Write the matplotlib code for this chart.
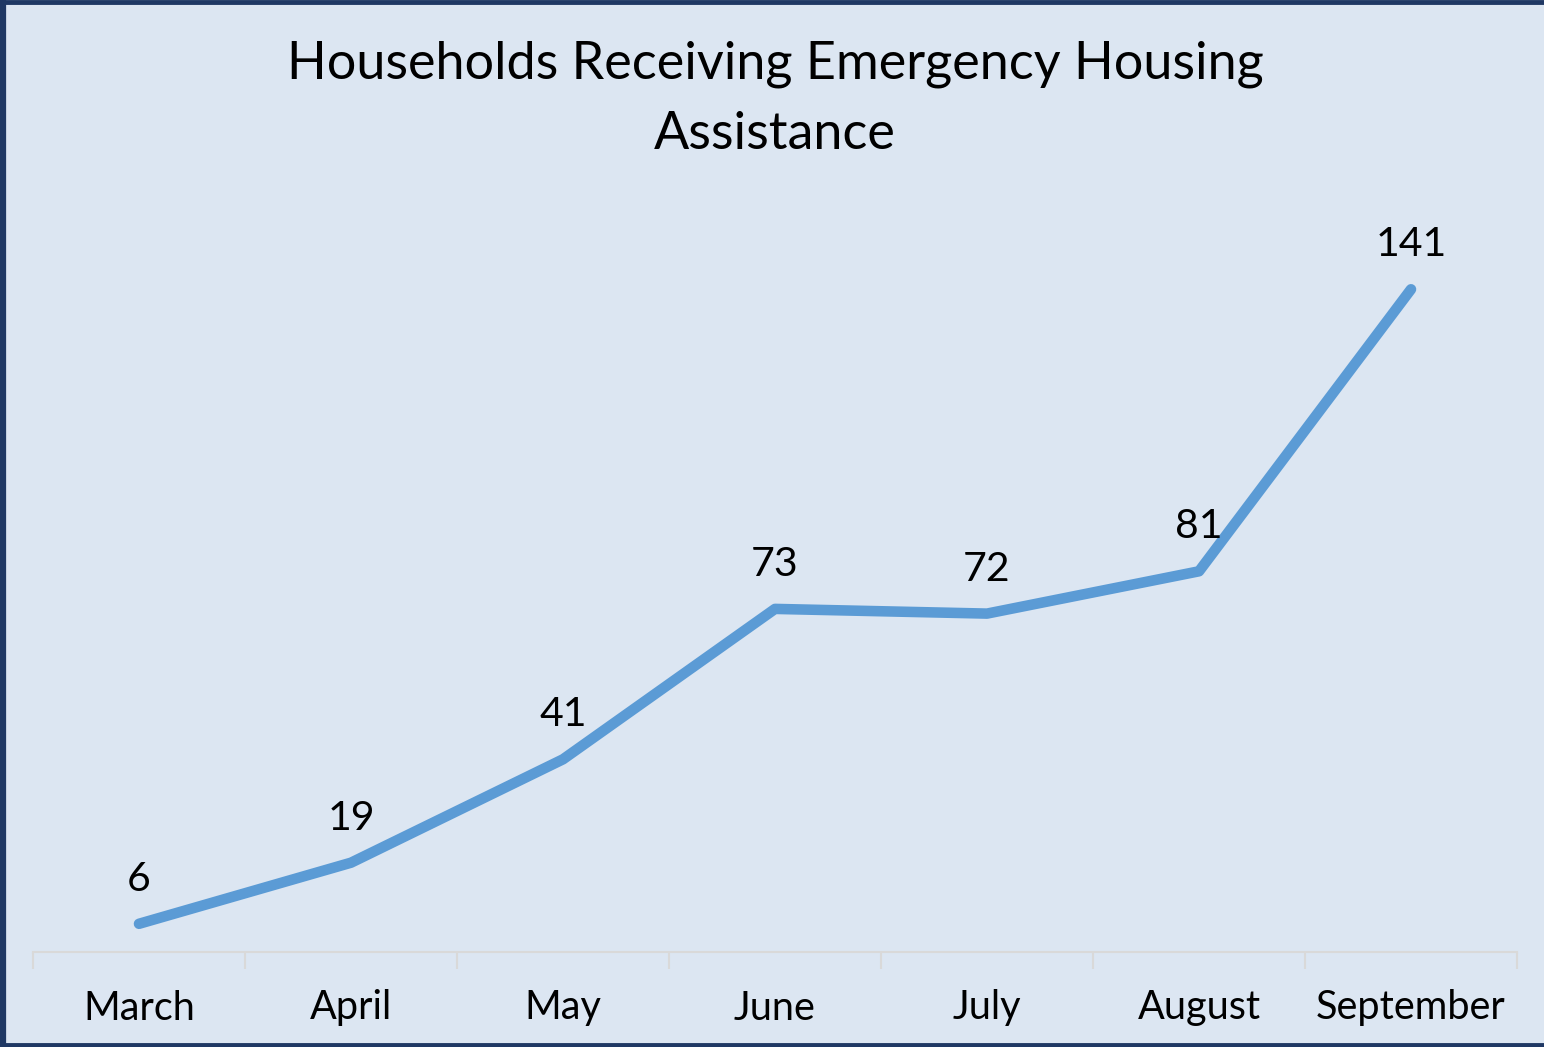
import matplotlib.pyplot as plt
from matplotlib.lines import Line2D

months = ["March", "April", "May", "June", "July", "August", "September"]
households = [6, 19, 41, 73, 72, 81, 141]

BG = "#DCE6F2"
LINE = "#5B9BD5"
BORDER = "#1F3864"

plt.rcParams['font.family'] = ['Lato', 'DejaVu Sans']

fig = plt.figure(figsize=(15.44, 10.47), dpi=100, facecolor=BG)
ax = fig.add_axes([33 / 1544, 1 - 952 / 1047, (1517 - 33) / 1544, (952 - 200) / 1047])
ax.set_facecolor(BG)

x = list(range(len(months)))
ax.plot(x, households, color=LINE, lw=7.6, solid_capstyle='round', solid_joinstyle='round')
for xi, v in zip(x, households):
    ax.annotate(str(v), (xi, v), xytext=(0, 32), textcoords='offset points',
                ha='center', va='center', fontsize=29.5)

ax.set_xlim(-0.5, len(months) - 0.5)
ax.set_ylim(0, 160)
ax.set_yticks([])
ax.set_xticks(x)
ax.set_xticklabels(months, fontsize=28.5)
ax.set_xticks([i - 0.5 for i in range(len(months) + 1)], minor=True)
ax.tick_params(axis='x', which='major', length=0, pad=27)
ax.tick_params(axis='x', which='minor', length=12, width=1.5, color="#D9D9D9")
for s in ['top', 'right', 'left']:
    ax.spines[s].set_visible(False)
ax.spines['bottom'].set_color("#D9D9D9")
ax.spines['bottom'].set_linewidth(1.5)

fig.text(775 / 1544, 1 - 99 / 1047, "Households Receiving Emergency Housing\nAssistance",
         ha='center', va='center', fontsize=37.5, linespacing=1.6)

# frame on left, top, bottom
fig.add_artist(Line2D([0.002, 0.002], [0, 1], transform=fig.transFigure, color=BORDER, lw=4.5))
fig.add_artist(Line2D([0, 1], [0.998, 0.998], transform=fig.transFigure, color=BORDER, lw=3.5))
fig.add_artist(Line2D([0, 1], [0.002, 0.002], transform=fig.transFigure, color=BORDER, lw=3.5))

fig.savefig("out.png", dpi=100, facecolor=BG)
